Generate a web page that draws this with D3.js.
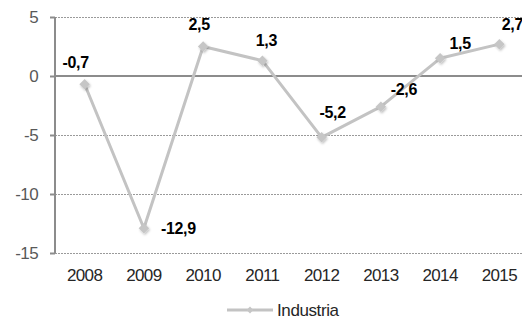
<!DOCTYPE html>
<html>
<head>
<meta charset="utf-8">
<script src="https://cdn.jsdelivr.net/npm/d3@7"></script>
<style>
    body { margin: 0; background: #fff; }
    svg { display: block; font-family: "Liberation Sans", Arial, sans-serif; }
</style>
</head>
<body>
<div id="chartDiv"></div>
<script>
// chart values
const years = ['2008', '2009', '2010', '2011', '2012', '2013', '2014', '2015'];
const industria = [-0.7, -12.9, 2.5, 1.3, -5.2, -2.6, 1.5, 2.7];
const yTicks = [5, 0, -5, -10, -15];
const seriesName = 'Industria';

// where each data label sits relative to its point (dx, dy)
const labelOffsets = [[-9, -22], [17, 0], [-4, -22], [4, -20], [11, -25], [23, -17], [20, -15], [13, -20]];

const width = 522, height = 322;
const plot = {left: 55, right: 529, top: 17, bottom: 253};

const svg = d3.select('#chartDiv')
    .append('svg')
    .attr('width', width)
    .attr('height', height);

const x = d3.scaleBand()
    .domain(years)
    .range([plot.left, plot.right]);

const y = d3.scaleLinear()
    .domain([-15, 5])
    .range([plot.bottom, plot.top]);

const fmt = v => String(v).replace('.', ',');

// shadow under the markers
const defs = svg.append('defs');
const shadow = defs.append('filter').attr('id', 'shadow')
    .attr('x', '-50%').attr('y', '-50%').attr('width', '200%').attr('height', '200%');
shadow.append('feDropShadow')
    .attr('dx', 1).attr('dy', 1.5).attr('stdDeviation', 1.2)
    .attr('flood-color', '#000').attr('flood-opacity', 0.25);

// gridlines
svg.append('g')
    .selectAll('line')
    .data(yTicks.filter(d => d !== 0))
    .enter().append('line')
    .attr('x1', plot.left).attr('x2', width)
    .attr('y1', d => Math.round(y(d)) + 0.5)
    .attr('y2', d => Math.round(y(d)) + 0.5)
    .attr('stroke', '#9a9a9a')
    .attr('stroke-width', 1)
    .attr('stroke-dasharray', '2,1');

// zero line
svg.append('line')
    .attr('x1', plot.left).attr('x2', width)
    .attr('y1', y(0)).attr('y2', y(0))
    .attr('stroke', '#8c8c8c')
    .attr('stroke-width', 2);

// y axis
const yAxis = svg.append('g')
    .attr('transform', 'translate(' + plot.left + ',0)')
    .call(d3.axisLeft(y).tickValues(yTicks).tickSize(5).tickPadding(12).tickFormat(fmt));
yAxis.select('.domain').attr('stroke', '#8c8c8c').attr('stroke-width', 2)
    .attr('d', 'M0,' + plot.top + 'V' + plot.bottom);
yAxis.selectAll('.tick line').attr('stroke', '#8c8c8c').attr('stroke-width', 2);
yAxis.selectAll('.tick text')
    .attr('fill', '#595959')
    .style('font-size', '17px')
    .style('letter-spacing', '-0.6px')
    .style('font-family', '"Liberation Sans", Arial, sans-serif');

// x axis labels
svg.append('g')
    .selectAll('text')
    .data(years)
    .enter().append('text')
    .attr('x', d => x(d) + x.bandwidth() / 2)
    .attr('y', 281)
    .attr('text-anchor', 'middle')
    .attr('fill', '#262626')
    .style('font-size', '17px')
    .style('letter-spacing', '-0.6px')
    .text(d => d);

const pts = years.map((d, i) => [x(d) + x.bandwidth() / 2, y(industria[i])]);

// series line
svg.append('path')
    .attr('d', d3.line()(pts))
    .attr('fill', 'none')
    .attr('stroke', '#c3c3c3')
    .attr('stroke-width', 3)
    .attr('stroke-linejoin', 'round');

// diamond markers
const diamond = d3.symbol().type(d3.symbolDiamond2).size(70);
svg.append('g')
    .selectAll('path')
    .data(pts)
    .enter().append('path')
    .attr('d', diamond)
    .attr('transform', d => 'translate(' + d[0] + ',' + d[1] + ')')
    .attr('fill', '#c6c6c6')
    .attr('filter', 'url(#shadow)');

// data labels
svg.append('g')
    .selectAll('text')
    .data(industria)
    .enter().append('text')
    .attr('x', (d, i) => pts[i][0] + labelOffsets[i][0])
    .attr('y', (d, i) => pts[i][1] + labelOffsets[i][1])
    .attr('dy', '0.35em')
    .attr('text-anchor', (d, i) => i === 1 ? 'start' : 'middle')
    .attr('fill', '#000')
    .style('font-size', '16px')
    .style('font-weight', 'bold')
    .style('letter-spacing', '-0.3px')
    .text(fmt);

// legend
const legend = svg.append('g');
legend.append('line')
    .attr('x1', 227).attr('x2', 273)
    .attr('y1', 310).attr('y2', 310)
    .attr('stroke', '#c3c3c3')
    .attr('stroke-width', 3);
legend.append('path')
    .attr('d', d3.symbol().type(d3.symbolDiamond2).size(30))
    .attr('transform', 'translate(250,310)')
    .attr('fill', '#c6c6c6');
legend.append('text')
    .attr('x', 277).attr('y', 316)
    .attr('fill', '#262626')
    .style('font-size', '17px')
    .style('letter-spacing', '-0.4px')
    .text(seriesName);
</script>
</body>
</html>
